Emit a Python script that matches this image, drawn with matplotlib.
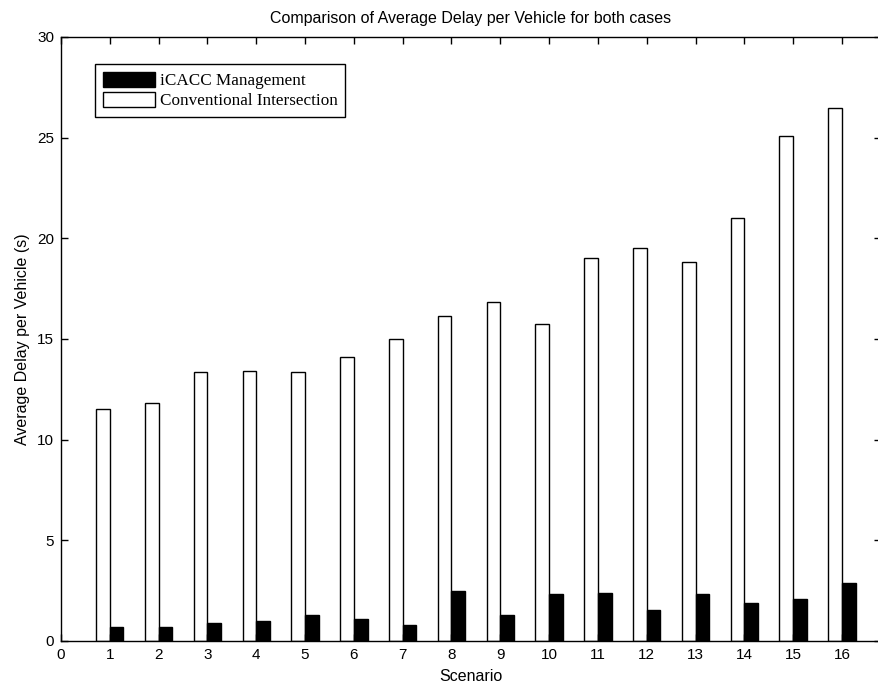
import numpy as np
import matplotlib
matplotlib.use("Agg")
import matplotlib.pyplot as plt
from matplotlib.patches import Patch

scenarios = list(range(1, 17))
icacc = [0.71, 0.71, 0.91, 0.98, 1.28, 1.08, 0.78, 2.48, 1.28, 2.32,
         2.37, 1.54, 2.32, 1.87, 2.10, 2.87]
conventional = [11.5, 11.8, 13.35, 13.4, 13.35, 14.1, 15.0, 16.15, 16.85, 15.75,
                19.0, 19.5, 18.8, 21.0, 25.1, 26.45]

plt.rcParams['font.family'] = ['Liberation Sans', 'DejaVu Sans']

fig = plt.figure(figsize=(8.79, 6.86), dpi=100)
# right spine sits just outside the picture, like the cropped original
ax = fig.add_axes([61/879, 45/686, 820/879, 604/686])

x = np.array(scenarios)
w = 0.28
ax.bar(x - w/2, conventional, width=w, color='white', edgecolor='black', linewidth=1)
ax.bar(x + w/2, icacc, width=w, color='black', edgecolor='black', linewidth=1)

ax.set_xlim(0, 16.8)
ax.set_ylim(0, 30)
ax.set_xticks(range(0, 17))
ax.set_yticks(range(0, 31, 5))
ax.tick_params(direction='in', top=True, right=True, length=5, width=1, labelsize=11, pad=5)
for s in ax.spines.values():
    s.set_linewidth(1)

ax.set_title("Comparison of Average Delay per Vehicle for both cases", fontsize=11.5, pad=10)
ax.set_xlabel("Scenario", fontsize=11.5, labelpad=5)
ax.set_ylabel("Average Delay per Vehicle (s)", fontsize=11.5, labelpad=5)

handles = [Patch(facecolor='black', edgecolor='black', label='iCACC Management'),
           Patch(facecolor='white', edgecolor='black', label='Conventional Intersection')]
leg = ax.legend(handles=handles, loc='upper left', bbox_to_anchor=(34/820, 1 - 27/604),
                prop={'family': 'Liberation Serif', 'size': 12.3}, fancybox=False,
                framealpha=1, edgecolor='black', handlelength=3.05, handleheight=1.0,
                handletextpad=0.3, borderpad=0.45, labelspacing=0.15, borderaxespad=0)
leg.get_frame().set_linewidth(1)

fig.savefig("out.png", dpi=100)
